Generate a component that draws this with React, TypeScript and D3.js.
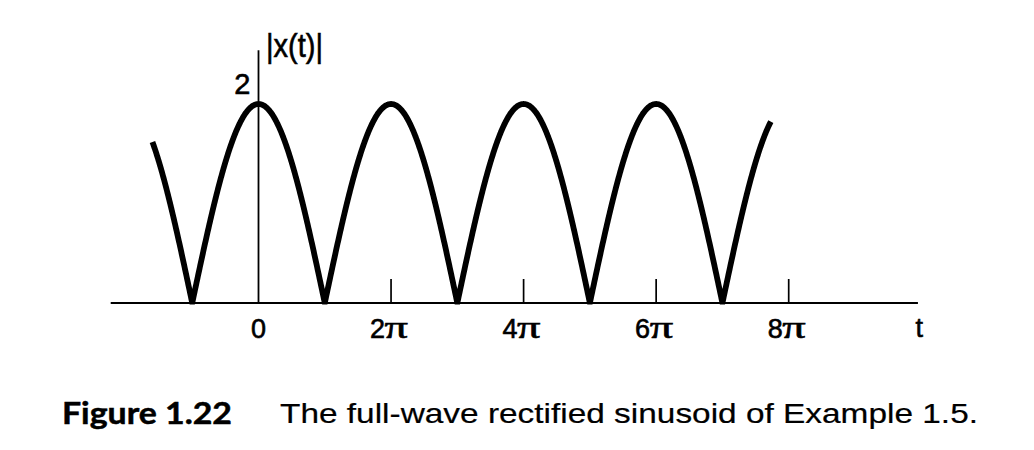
import React from "react";
import * as d3 from "d3";

// ---- data (t in units of π) ----
const AMPLITUDE = 2;               // peak value of |x(t)|
const T_START = -1.6;              // where the drawn curve begins
const T_END = 7.73;                // where the drawn curve ends
const ZERO_CROSSINGS = [-1, 1, 3, 5, 7];
const TICK_VALUES = [2, 4, 6, 8];
const TICK_LABEL_VALUES = [0, 2, 4, 6, 8];
const TICK_LABEL_NUMS = ["0", "2", "4", "6", "8"];
const Y_TICK_VALUE = 2;
const Y_TICK_LABEL = "2";
const X_AXIS_DOMAIN = [-2.23, 9.95];
const Y_AXIS_TOP = 2.54;
const Y_LABEL = "|x(t)|";
const X_LABEL = "t";
const FIG_NUMBER = "Figure 1.22";
const CAPTION = "The full-wave rectified sinusoid of Example 1.5.";

const W = 1034;
const H = 450;

export default function App() {
  const x = d3.scaleLinear().domain([0, 8]).range([258.5, 788.7]);
  const y = d3.scaleLinear().domain([0, 2]).range([303, 104]);

  const ts = d3.range(T_START, T_END + 1e-9, 0.005).concat(ZERO_CROSSINGS);
  ts.sort((a, b) => a - b);
  const pts: [number, number][] = ts.map((t) => [
    t,
    Math.abs(AMPLITUDE * Math.cos((Math.PI * t) / 2)),
  ]);
  const line = d3
    .line<[number, number]>()
    .x((d) => x(d[0]))
    .y((d) => y(d[1]));

  const sans = "'Liberation Sans', Arial, Helvetica, sans-serif";
  const serif = "'Liberation Serif', 'Times New Roman', serif";
  const thick = { stroke: "#000", strokeWidth: 0.6 } as const;

  return (
    <svg
      width={W}
      height={H}
      viewBox={`0 0 ${W} ${H}`}
      style={{ position: "absolute", left: 0, top: 0, background: "#fff" }}
    >
      <rect x={0} y={0} width={W} height={H} fill="#fff" />
      {/* x axis */}
      <line
        x1={x(X_AXIS_DOMAIN[0])}
        x2={x(X_AXIS_DOMAIN[1])}
        y1={y(0)}
        y2={y(0)}
        stroke="#000"
        strokeWidth={2}
      />
      {/* y axis */}
      <line
        x1={x(0)}
        x2={x(0)}
        y1={y(0)}
        y2={y(Y_AXIS_TOP)}
        stroke="#000"
        strokeWidth={1.8}
      />
      {/* ticks */}
      {TICK_VALUES.map((v) => (
        <line
          key={v}
          x1={x(v)}
          x2={x(v)}
          y1={y(0)}
          y2={y(0) - 24}
          stroke="#000"
          strokeWidth={1.7}
        />
      ))}
      {/* curve */}
      <defs>
        <clipPath id="above">
          <rect x={0} y={0} width={W} height={y(0) + 1.5} />
        </clipPath>
      </defs>
      <path
        d={line(pts) || ""}
        fill="none"
        stroke="#000"
        strokeWidth={5.8}
        strokeLinejoin="miter"
        strokeMiterlimit={10}
        clipPath="url(#above)"
      />
      {/* tick labels */}
      {TICK_LABEL_VALUES.map((v, i) =>
        v === 0 ? (
          <text
            key={v}
            x={x(v)}
            y={338}
            textAnchor="middle"
            fontFamily={sans}
            fontSize={27}
            fill="#000"
            {...thick}
          >
            {TICK_LABEL_NUMS[i]}
          </text>
        ) : (
          <g key={v}>
            <text
              x={x(v) - 6}
              y={338}
              textAnchor="end"
              fontFamily={sans}
              fontSize={27}
              fill="#000"
              {...thick}
            >
              {TICK_LABEL_NUMS[i]}
            </text>
            <text
              transform={`translate(${x(v) - 6.5},338) scale(1.5,1)`}
              fontFamily={serif}
              fontSize={31}
              fill="#000"
              {...thick}
            >
              π
            </text>
          </g>
        )
      )}
      <text
        x={x(9.97)}
        y={337}
        textAnchor="middle"
        fontFamily={sans}
        fontSize={27}
        fill="#000"
        {...thick}
      >
        {X_LABEL}
      </text>
      {/* y tick label */}
      <text
        x={x(0) - 8}
        y={y(Y_TICK_VALUE) - 10}
        textAnchor="end"
        fontFamily={sans}
        fontSize={29}
        fill="#000"
        {...thick}
      >
        {Y_TICK_LABEL}
      </text>
      {/* y label */}
      <text
        x={266}
        y={57}
        fontFamily={sans}
        fontSize={33}
        textLength={57}
        lengthAdjust="spacingAndGlyphs"
        fill="#000"
        {...thick}
      >
        {Y_LABEL}
      </text>
      {/* caption */}
      <text
        x={62}
        y={424}
        fontFamily="Lato, 'Open Sans', sans-serif"
        fontWeight={700}
        fontSize={30}
        textLength={170}
        lengthAdjust="spacingAndGlyphs"
        fill="#000"
        stroke="#000"
        strokeWidth={0.5}
      >
        {FIG_NUMBER}
      </text>
      <text
        x={280}
        y={423}
        fontFamily={sans}
        fontSize={28}
        textLength={698}
        lengthAdjust="spacingAndGlyphs"
        fill="#000"
        stroke="#000"
        strokeWidth={0.2}
      >
        {CAPTION}
      </text>
    </svg>
  );
}
